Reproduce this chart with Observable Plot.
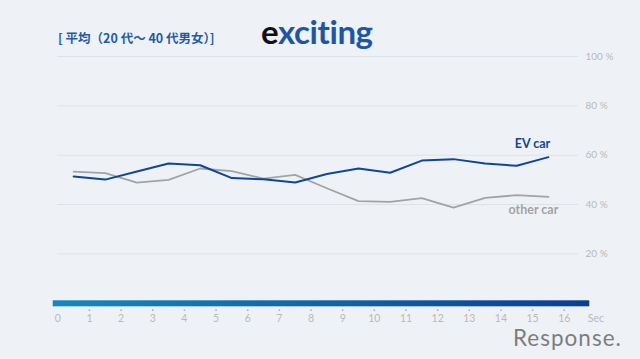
<!DOCTYPE html>
<html><head><meta charset="utf-8">
<script src="https://cdn.jsdelivr.net/npm/d3@7"></script>
<script src="https://cdn.jsdelivr.net/npm/@observablehq/plot@0.6"></script>
<style>
html,body{margin:0;padding:0;background:#eef2f7;}
#wrap{position:relative;width:640px;height:359px;overflow:hidden;background:#eef2f7;}
#chart{position:absolute;left:0;top:0;}
.title{position:absolute;left:58px;top:30px;line-height:1.2;font-family:"Noto Sans CJK JP",sans-serif;font-size:12.5px;font-weight:700;color:#1f5ba6;white-space:nowrap;}
.logo{position:absolute;left:261px;top:15px;line-height:1;font-family:Lato,"Noto Sans",sans-serif;font-size:33px;font-weight:700;color:#1d56a3;white-space:nowrap;letter-spacing:-0.4px;}
.logo .e{color:#111;}
.wm{position:absolute;left:513px;top:328.5px;line-height:0.8;font-family:Lato,"Noto Sans",sans-serif;font-size:22.5px;color:#7d7d7d;white-space:nowrap;letter-spacing:1px;}
</style></head>
<body><div id="wrap"><div id="chart"></div>
<div class="title">[ 平均（20 代～ 40 代男女）]</div>
<div class="logo"><span class="e">e</span>xciting</div>
<div class="wm">Response.</div>
</div>
<script>
const seconds = [0.5,1.5,2.5,3.5,4.5,5.5,6.5,7.5,8.5,9.5,10.5,11.5,12.5,13.5,14.5,15.5];
const evCar = [51.4,50.1,53.4,56.6,55.9,50.7,50.2,48.9,52.4,54.6,52.9,57.8,58.4,56.6,55.7,59.2];
const otherCar = [53.3,52.7,48.9,50.0,54.6,53.5,50.5,52.0,46.6,41.4,41.1,42.6,38.7,42.7,43.8,43.1];
const seriesNames = ["EV car","other car"];
const seriesColors = ["#0f4699","#a3a3a3"];
const yTicks = [20,40,60,80,100];
const xTickDots = [1,2,3,4,5,6,7,8,9,10,11,12,13,14,15,16];
const xTickValues = [0,1,2,3,4,5,6,7,8,9,10,11,12,13,14,15,16,17];
const xTickLabels = ["0","1","2","3","4","5","6","7","8","9","10","11","12","13","14","15","16","Sec"];
const xMax = 16.45;

const evData = seconds.map((t,i)=>({t, v: evCar[i]}));
const otherData = seconds.map((t,i)=>({t, v: otherCar[i]}));
const lastIdx = seconds.length - 1;
const evLabel = [{t: seconds[lastIdx], v: evCar[lastIdx], name: seriesNames[0]}];
const otherLabel = [{t: seconds[lastIdx], v: otherCar[lastIdx], name: seriesNames[1]}];
const xLabelData = xTickValues.map((x,i)=>({x, label: xTickLabels[i]}));

const svg = Plot.plot({
  width: 640, height: 359,
  marginLeft: 57.3, marginRight: 62, marginTop: 56, marginBottom: 56.3,
  style: {background: "transparent", fontFamily: "Lato, 'Noto Sans', sans-serif"},
  x: {domain: [0, xMax], axis: null},
  y: {domain: [0, 100], axis: null},
  marks: [
    Plot.ruleY(yTicks, {y: d=>d, stroke: "#dde2e9", strokeWidth: 1}),
    Plot.text(yTicks, {y: d=>d, text: d=>`${d} %`, frameAnchor: "right", dx: 7, textAnchor: "start", fill: "#b9b9b9", fontSize: 10}),
    Plot.rect([0], {x1: 0, x2: xMax, y1: 0, y2: 0, insetLeft: -4.6, insetRight: -11.3, insetTop: -2.4, insetBottom: -3.6, fill: "url(#barGrad)"}),
    Plot.dot(xTickDots, {x: d=>d, frameAnchor: "bottom", dy: 7, r: 0.9, fill: "#b0b0b0", stroke: null}),
    Plot.text(xLabelData, {x: "x", text: "label", frameAnchor: "bottom", dy: 18.5, fill: "#b9b9b9", fontSize: 10.5}),
    Plot.line(otherData, {x: "t", y: "v", stroke: seriesColors[1], strokeWidth: 1.8}),
    Plot.line(evData, {x: "t", y: "v", stroke: seriesColors[0], strokeWidth: 2}),
    Plot.text(evLabel, {x: "t", y: "v", text: "name", fill: seriesColors[0], dx: -16, dy: -13, fontSize: 12.5, fontWeight: "bold"}),
    Plot.text(otherLabel, {x: "t", y: "v", text: "name", fill: seriesColors[1], dx: -15, dy: 13, fontSize: 12.5, fontWeight: "bold"})
  ]
});
document.getElementById("chart").appendChild(svg);
const defs = d3.select(svg).insert("defs", ":first-child");
const g = defs.append("linearGradient").attr("id","barGrad").attr("x1","0").attr("x2","1").attr("y1","0").attr("y2","0");
g.append("stop").attr("offset","0").attr("stop-color","#1389bf");
g.append("stop").attr("offset","1").attr("stop-color","#0b3f8f");
</script>
</body></html>
